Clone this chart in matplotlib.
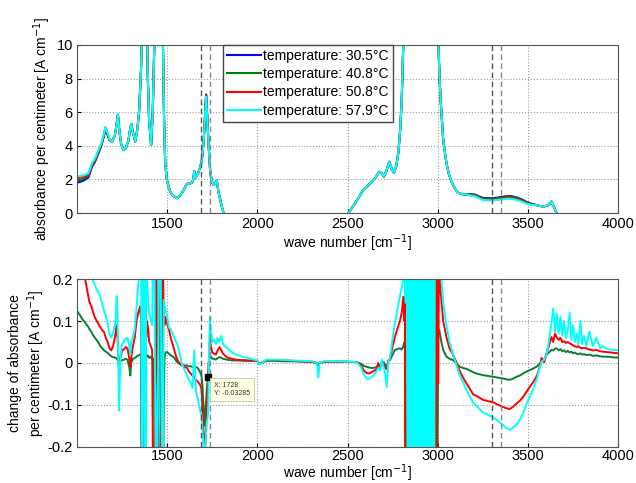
import numpy as np
import matplotlib
matplotlib.use('Agg')
import matplotlib.pyplot as plt

plt.rcParams['font.family'] = ['Liberation Sans', 'DejaVu Sans']
plt.rcParams['font.size'] = 10

# ---- top panel: absorbance spectrum at 30.5 C (reference) ----
wn_abs = [1000, 1020, 1040, 1064, 1083, 1100, 1120, 1135, 1150, 1157,
          1165, 1180, 1194, 1210, 1220, 1227, 1235, 1245, 1258, 1270,
          1285, 1295, 1301, 1310, 1323, 1335, 1345, 1355, 1362, 1375,
          1388, 1393, 1400, 1411, 1420, 1430, 1450, 1476, 1483, 1489,
          1498, 1508, 1517, 1530, 1544, 1555, 1568, 1581, 1595, 1609,
          1625, 1637, 1645, 1650, 1655, 1665, 1673, 1685, 1692, 1700,
          1707, 1712, 1716, 1722, 1729, 1738, 1747, 1756, 1765, 1775,
          1784, 1798, 1812, 1830, 1900, 2100, 2300, 2470, 2504, 2540,
          2587, 2610, 2633, 2655, 2676, 2690, 2702, 2715, 2731, 2745,
          2757, 2770, 2781, 2792, 2800, 2810, 2900, 3002, 3010, 3016,
          3030, 3048, 3062, 3076, 3095, 3113, 3135, 3159, 3180, 3205,
          3230, 3251, 3280, 3307, 3340, 3380, 3409, 3440, 3470, 3492,
          3520, 3550, 3584, 3610, 3625, 3630, 3640, 3658, 3680, 3800,
          4000]
abs_305 = [1.80, 1.86, 1.95, 2.12, 2.75, 3.05, 3.6, 4.0, 4.6, 5.0,
           4.8, 4.35, 4.25, 4.6, 5.3, 5.85, 4.9, 4.1, 3.75, 3.85,
           4.3, 5.0, 5.3, 4.8, 4.25, 5.0, 6.1, 8.5, 11.0, 14.0,
           11.0, 8.0, 5.5, 4.05, 6.0, 10.5, 14.0, 10.5, 5.5, 3.0,
           2.0, 1.55, 1.27, 1.05, 0.95, 0.88, 1.0, 1.17, 1.45, 1.73,
           1.75, 1.8, 2.0, 2.5, 2.1, 2.25, 2.4, 2.8, 3.15, 4.0,
           5.1, 6.3, 7.05, 5.8, 4.2, 2.56, 1.9, 1.67, 1.75, 1.96,
           1.27, 0.6, 0.0, -0.6, -1.5, -2.0, -1.8, -0.6, 0.0, 0.55,
           1.37, 1.6, 1.86, 2.1, 2.46, 2.35, 2.16, 2.5, 3.05, 2.6,
           2.4, 2.8, 3.55, 5.0, 6.7, 10.5, 14.0, 10.5, 8.0, 6.7,
           4.35, 2.96, 2.3, 1.86, 1.45, 1.21, 1.12, 1.11, 1.12, 1.1,
           0.98, 0.9, 0.88, 0.88, 0.93, 1.0, 1.0, 0.92, 0.78, 0.66,
           0.55, 0.46, 0.38, 0.45, 0.6, 0.68, 0.45, 0.0, -0.5, -1.0,
           -1.0]

# offsets of the warmer spectra from the 30.5 C one (only where they differ)
shift_408 = {1000: 0.13, 1020: 0.12, 1040: 0.10, 1064: 0.09, 1083: 0.07,
             1100: 0.06, 1120: 0.05, 1135: 0.04, 1150: 0.03,
             1716: -0.05, 1722: -0.05,
             3180: -0.02, 3205: -0.02, 3230: -0.03, 3251: -0.03, 3280: -0.03,
             3307: -0.03, 3340: -0.035, 3380: -0.04, 3409: -0.04, 3440: -0.035,
             3470: -0.025, 3492: -0.02, 3520: -0.015}
shift_508 = {1000: 0.27, 1020: 0.25, 1040: 0.21, 1064: 0.16, 1083: 0.13,
             1100: 0.11, 1120: 0.09, 1135: 0.085, 1150: 0.075, 1157: 0.07,
             1165: 0.05, 1180: 0.04,
             1716: -0.1, 1722: -0.1,
             3180: -0.06, 3205: -0.07, 3230: -0.08, 3251: -0.09, 3280: -0.09,
             3307: -0.095, 3340: -0.1, 3380: -0.105, 3409: -0.11, 3440: -0.1,
             3470: -0.08, 3492: -0.07, 3520: -0.05}
shift_579 = {1000: 0.38, 1020: 0.34, 1040: 0.30, 1064: 0.24, 1083: 0.20,
             1100: 0.185, 1120: 0.168, 1135: 0.15, 1150: 0.125, 1157: 0.12,
             1165: 0.10, 1180: 0.07,
             1716: -0.13, 1722: -0.13,
             3180: -0.08, 3205: -0.10, 3230: -0.11, 3251: -0.12, 3280: -0.125,
             3307: -0.13, 3340: -0.14, 3380: -0.155, 3409: -0.16, 3440: -0.148,
             3470: -0.12, 3492: -0.10, 3520: -0.07}

temps = ['30.5', '40.8', '50.8', '57.9']
top_colors = ['#0000ff', '#008000', '#ff0000', '#00ffff']

# ---- bottom panel: change of absorbance relative to 30.5 C ----
wn_diff = [1000, 1010, 1020, 1030, 1040, 1050, 1060, 1070, 1080, 1090,
           1100, 1110, 1120, 1130, 1140, 1150, 1160, 1170, 1180, 1190,
           1200, 1210, 1215, 1220, 1225, 1230, 1233, 1237, 1242, 1250,
           1260, 1270, 1280, 1290, 1296, 1300, 1310, 1320, 1330, 1340,
           1350, 1356, 1360, 1370, 1380, 1384, 1388, 1395, 1400, 1410,
           1417, 1425, 1440, 1460, 1475, 1481, 1485, 1490, 1500, 1510,
           1520, 1530, 1540, 1550, 1560, 1570, 1580, 1590, 1600, 1610,
           1620, 1630, 1640, 1650, 1660, 1670, 1680, 1690, 1695, 1700,
           1705, 1710, 1715, 1720, 1725, 1728, 1732, 1737, 1742, 1750,
           1760, 1770, 1780, 1790, 1800, 1810, 1820, 1830, 1840, 1850,
           1860, 1880, 1900, 1920, 1950, 1980, 2000, 2010, 2050, 2100,
           2150, 2200, 2250, 2300, 2330, 2338, 2345, 2370, 2400, 2450,
           2500, 2550, 2575, 2590, 2606, 2620, 2642, 2660, 2670, 2680,
           2689, 2700, 2710, 2717, 2725, 2735, 2750, 2762, 2775, 2790,
           2800, 2809, 2815, 2818, 2822, 2830, 2900, 2990, 2996, 3002,
           3008, 3012, 3020, 3030, 3048, 3065, 3085, 3100, 3122, 3140,
           3159, 3178, 3196, 3220, 3251, 3280, 3307, 3335, 3362, 3380,
           3399, 3415, 3436, 3455, 3473, 3490, 3510, 3530, 3547, 3560,
           3575, 3590, 3602, 3615, 3630, 3640, 3650, 3658, 3670, 3680,
           3690, 3700, 3710, 3720, 3731, 3740, 3750, 3760, 3770, 3780,
           3790, 3800, 3810, 3824, 3840, 3860, 3880, 3900, 3916, 3940,
           3960, 3980, 4000]
diff_408 = [0.125, 0.118, 0.112, 0.104, 0.100, 0.093, 0.088, 0.080, 0.074, 0.066,
            0.060, 0.054, 0.048, 0.040, 0.035, 0.030, 0.027, 0.024, 0.020, 0.016,
            0.014, 0.013, 0.012, 0.010, 0.008, 0.000, -0.010, 0.000, 0.006, 0.006,
            0.008, 0.010, 0.008, -0.010, -0.030, 0.000, 0.010, 0.012, 0.015, 0.018,
            0.020, 0.015, -0.5, -0.5, 0.010, 0.020, 0.015, 0.018, 0.012, 0.015,
            0.010, 0.010, -0.5, 0.3, -0.5, -0.10, 0.010, 0.025, 0.026, 0.022,
            0.018, 0.016, 0.012, 0.005, 0.000, -0.002, -0.004, -0.006, -0.006, -0.006,
            -0.008, -0.008, -0.009, -0.010, -0.010, -0.012, -0.020, -0.030, -0.050, -0.090,
            -0.120, -0.150, -0.100, -0.060, -0.040, -0.020, 0.005, 0.018, 0.015, 0.010,
            0.010, 0.008, 0.012, 0.014, 0.012, 0.010, 0.009, 0.008, 0.007, 0.007,
            0.006, 0.006, 0.006, 0.005, 0.005, 0.005, 0.004, -0.002, 0.005, 0.005,
            0.004, 0.004, 0.003, 0.002, 0.000, -0.008, 0.000, 0.002, 0.003, 0.003,
            0.003, 0.002, -0.002, -0.007, -0.009, -0.011, -0.012, -0.010, -0.005, -0.008,
            0.000, 0.002, -0.005, -0.010, 0.002, 0.007, 0.020, 0.031, 0.033, 0.035,
            0.032, 0.040, 0.050, 0.030, -0.5, -0.5, -0.5, -0.5, -0.5, 0.070,
            0.080, 0.070, 0.050, 0.031, 0.015, 0.010, 0.007, 0.000, -0.009, -0.012,
            -0.014, -0.018, -0.022, -0.026, -0.029, -0.031, -0.033, -0.035, -0.037, -0.039,
            -0.040, -0.038, -0.033, -0.030, -0.025, -0.021, -0.017, -0.013, -0.009, -0.004,
            0.003, 0.008, 0.019, 0.025, 0.031, 0.030, 0.034, 0.035, 0.030, 0.033,
            0.028, 0.030, 0.026, 0.029, 0.025, 0.027, 0.023, 0.025, 0.022, 0.021,
            0.023, 0.020, 0.021, 0.019, 0.020, 0.017, 0.018, 0.016, 0.015, 0.015,
            0.014, 0.013, 0.013]
diff_508 = [0.26, 0.25, 0.24, 0.23, 0.21, 0.19, 0.165, 0.145, 0.135, 0.120,
            0.108, 0.100, 0.092, 0.085, 0.078, 0.074, 0.060, 0.050, 0.036, 0.030,
            0.040, 0.060, 0.075, 0.090, 0.060, 0.010, -0.002, 0.010, 0.015, 0.030,
            0.032, 0.038, 0.035, 0.010, -0.010, 0.010, 0.040, 0.060, 0.100, 0.120,
            0.135, 0.100, -0.5, -0.5, 0.140, 0.060, 0.100, 0.080, 0.050, 0.040,
            0.030, -0.5, 0.2, -0.5, 0.3, 0.100, 0.090, 0.110, 0.093, 0.080,
            0.060, 0.045, 0.030, 0.015, 0.005, -0.002, -0.005, -0.008, -0.010, -0.012,
            -0.020, -0.025, -0.030, -0.034, -0.040, -0.045, -0.050, -0.060, -0.100, -0.150,
            -0.190, -0.210, -0.160, -0.110, -0.070, -0.03285, 0.020, 0.055, 0.040, 0.025,
            0.022, 0.020, 0.030, 0.038, 0.030, 0.022, 0.018, 0.014, 0.012, 0.011,
            0.010, 0.008, 0.007, 0.007, 0.006, 0.006, 0.005, -0.002, 0.007, 0.007,
            0.006, 0.005, 0.004, 0.003, 0.001, -0.006, 0.001, 0.003, 0.003, 0.003,
            0.003, 0.002, -0.005, -0.018, -0.024, -0.025, -0.020, -0.015, 0.000, -0.012,
            0.002, -0.005, -0.012, -0.015, 0.005, 0.010, 0.040, 0.062, 0.080, 0.100,
            0.120, 0.158, 0.100, 0.140, -0.5, -0.5, -0.5, -0.5, 0.5, -0.050,
            0.300, 0.190, 0.150, 0.100, 0.062, 0.035, 0.019, 0.005, -0.020, -0.035,
            -0.049, -0.062, -0.075, -0.080, -0.088, -0.091, -0.094, -0.100, -0.105, -0.108,
            -0.110, -0.105, -0.097, -0.090, -0.081, -0.070, -0.057, -0.045, -0.033, -0.018,
            0.012, 0.002, 0.022, 0.040, 0.062, 0.050, 0.070, 0.062, 0.055, 0.060,
            0.050, 0.052, 0.048, 0.050, 0.047, 0.045, 0.042, 0.040, 0.038, 0.040,
            0.036, 0.035, 0.036, 0.035, 0.032, 0.030, 0.031, 0.028, 0.027, 0.026,
            0.025, 0.024, 0.023]
diff_579 = [0.35, 0.34, 0.32, 0.30, 0.28, 0.26, 0.24, 0.22, 0.205, 0.195,
            0.185, 0.175, 0.168, 0.158, 0.140, 0.125, 0.112, 0.095, 0.070, 0.060,
            0.072, 0.090, 0.110, 0.160, 0.120, -0.030, -0.114, -0.050, 0.020, 0.045,
            0.050, 0.058, 0.060, 0.040, 0.020, 0.050, 0.060, 0.080, 0.130, 0.190,
            0.220, 0.250, -0.5, 0.5, -0.5, 0.5, 0.200, 0.150, 0.120, 0.100,
            0.090, 0.5, -0.5, 0.5, -0.5, 0.150, 0.140, 0.130, 0.110, 0.085,
            0.080, 0.070, 0.060, 0.050, 0.040, 0.020, 0.000, -0.010, -0.020, -0.030,
            -0.040, -0.045, -0.060, 0.030, -0.070, -0.085, -0.110, -0.125, -0.150, -0.190,
            -0.220, -0.210, -0.170, -0.140, -0.130, -0.100, 0.030, 0.110, 0.080, 0.050,
            0.055, 0.045, 0.060, 0.050, 0.065, 0.045, 0.040, 0.038, 0.032, 0.030,
            0.025, 0.020, 0.018, 0.014, 0.012, 0.008, 0.006, -0.004, 0.008, 0.008,
            0.007, 0.006, 0.005, 0.004, 0.000, -0.035, 0.000, 0.004, 0.004, 0.004,
            0.003, 0.002, -0.010, -0.028, -0.037, -0.038, -0.030, -0.020, -0.012, -0.018,
            0.008, -0.010, -0.030, -0.057, 0.000, 0.012, 0.060, 0.095, 0.125, 0.158,
            0.180, 0.200, 0.300, 0.300, 0.300, 0.300, 0.300, 0.300, 0.300, 0.300,
            0.300, 0.250, 0.200, 0.143, 0.090, 0.050, 0.020, 0.000, -0.030, -0.045,
            -0.065, -0.080, -0.095, -0.105, -0.118, -0.124, -0.130, -0.138, -0.148, -0.155,
            -0.160, -0.155, -0.148, -0.135, -0.120, -0.100, -0.081, -0.060, -0.041, -0.020,
            0.003, 0.008, 0.018, 0.050, 0.095, 0.130, 0.075, 0.118, 0.070, 0.110,
            0.065, 0.100, 0.060, 0.075, 0.120, 0.055, 0.090, 0.050, 0.070, 0.045,
            0.100, 0.045, 0.065, 0.040, 0.075, 0.040, 0.060, 0.035, 0.040, 0.033,
            0.032, 0.031, 0.030]
# regions where the 57.9 C difference oscillates over the whole range
saturated_579 = [(1360, 1386), (1425, 1479), (2812, 3003)]
diff_colors = ['#0b7d35', '#ff0000', '#00ffff']

marker_lines = [1690, 1740, 3300, 3350]
marker_colors = ['#555555', '#888888', '#555555', '#888888']
tip_x, tip_y = 1728, -0.03285

fig = plt.figure(figsize=(6.36, 4.83), dpi=100)
ax1 = fig.add_axes([0.121, 0.559, 0.851, 0.348])
ax2 = fig.add_axes([0.121, 0.075, 0.851, 0.347])

wn = np.array(wn_abs)
base = np.array(abs_305)
series = [base]
for sh in (shift_408, shift_508, shift_579):
    series.append(base + np.array([sh.get(w, 0.0) for w in wn_abs]))
for s, t, c in zip(series, temps, top_colors):
    ax1.plot(wn, s, color=c, lw=1.5, label='temperature: ' + t + '\u00b0C')

for ax in (ax1, ax2):
    for xv, cc in zip(marker_lines, marker_colors):
        ax.axvline(xv, color=cc, ls='--', lw=1.0, dashes=(4, 2.5), zorder=3)

ax1.set_xlim(1000, 4000)
ax1.set_ylim(0, 10)
ax1.set_xticks([1500, 2000, 2500, 3000, 3500, 4000])
ax1.set_yticks([0, 2, 4, 6, 8, 10])
ax1.set_xlabel('wave number [cm$^{-1}$]', labelpad=1)
ax1.set_ylabel('absorbance per centimeter [A cm$^{-1}$]')
ax1.yaxis.set_label_coords(-0.045, 0.5)
leg = ax1.legend(loc='upper left', bbox_to_anchor=(0.27, 1.0), fontsize=10,
                 handlelength=2.4, handletextpad=0.2, labelspacing=0.3,
                 borderpad=0.3, borderaxespad=0, fancybox=False, framealpha=1)
leg.get_frame().set_edgecolor('#444444')

for lo, hi in saturated_579:
    ax2.axvspan(lo, hi, color=diff_colors[2], lw=0, zorder=1)
for d, c in zip((diff_408, diff_508, diff_579), diff_colors):
    ax2.plot(wn_diff, d, color=c, lw=1.4, zorder=2)

ax2.plot(tip_x, tip_y, 's', color='black', ms=4, zorder=5)
ax2.annotate('X: %d\nY: %.5g' % (tip_x, tip_y), xy=(tip_x, tip_y),
             xytext=(4, -4), textcoords='offset points', fontsize=5,
             ha='left', va='top', color='#333333', zorder=6,
             bbox=dict(boxstyle='square,pad=0.6', fc='#ffffe1', ec='#c8c8a0', lw=0.6))

ax2.set_xlim(1000, 4000)
ax2.set_ylim(-0.2, 0.2)
ax2.set_xticks([1500, 2000, 2500, 3000, 3500, 4000])
ax2.set_yticks([-0.2, -0.1, 0, 0.1, 0.2])
ax2.set_yticklabels(['-0.2', '-0.1', '0', '0.1', '0.2'])
ax2.set_ylabel('change of absorbance\nper centimeter [A cm$^{-1}$]')
ax2.yaxis.set_label_coords(-0.055, 0.5)

for ax in (ax1, ax2):
    ax.grid(True, ls=':', color='#9a9a9a', lw=0.8)
    ax.set_axisbelow(True)
    ax.tick_params(direction='in', length=3, labelsize=10.5, pad=3)
    for sp in ax.spines.values():
        sp.set_color('#555555')
ax2.tick_params(axis='x', pad=1.5)
ax2.set_xlabel('wave number [cm$^{-1}$]', labelpad=0)

fig.savefig('out.png', dpi=100)
